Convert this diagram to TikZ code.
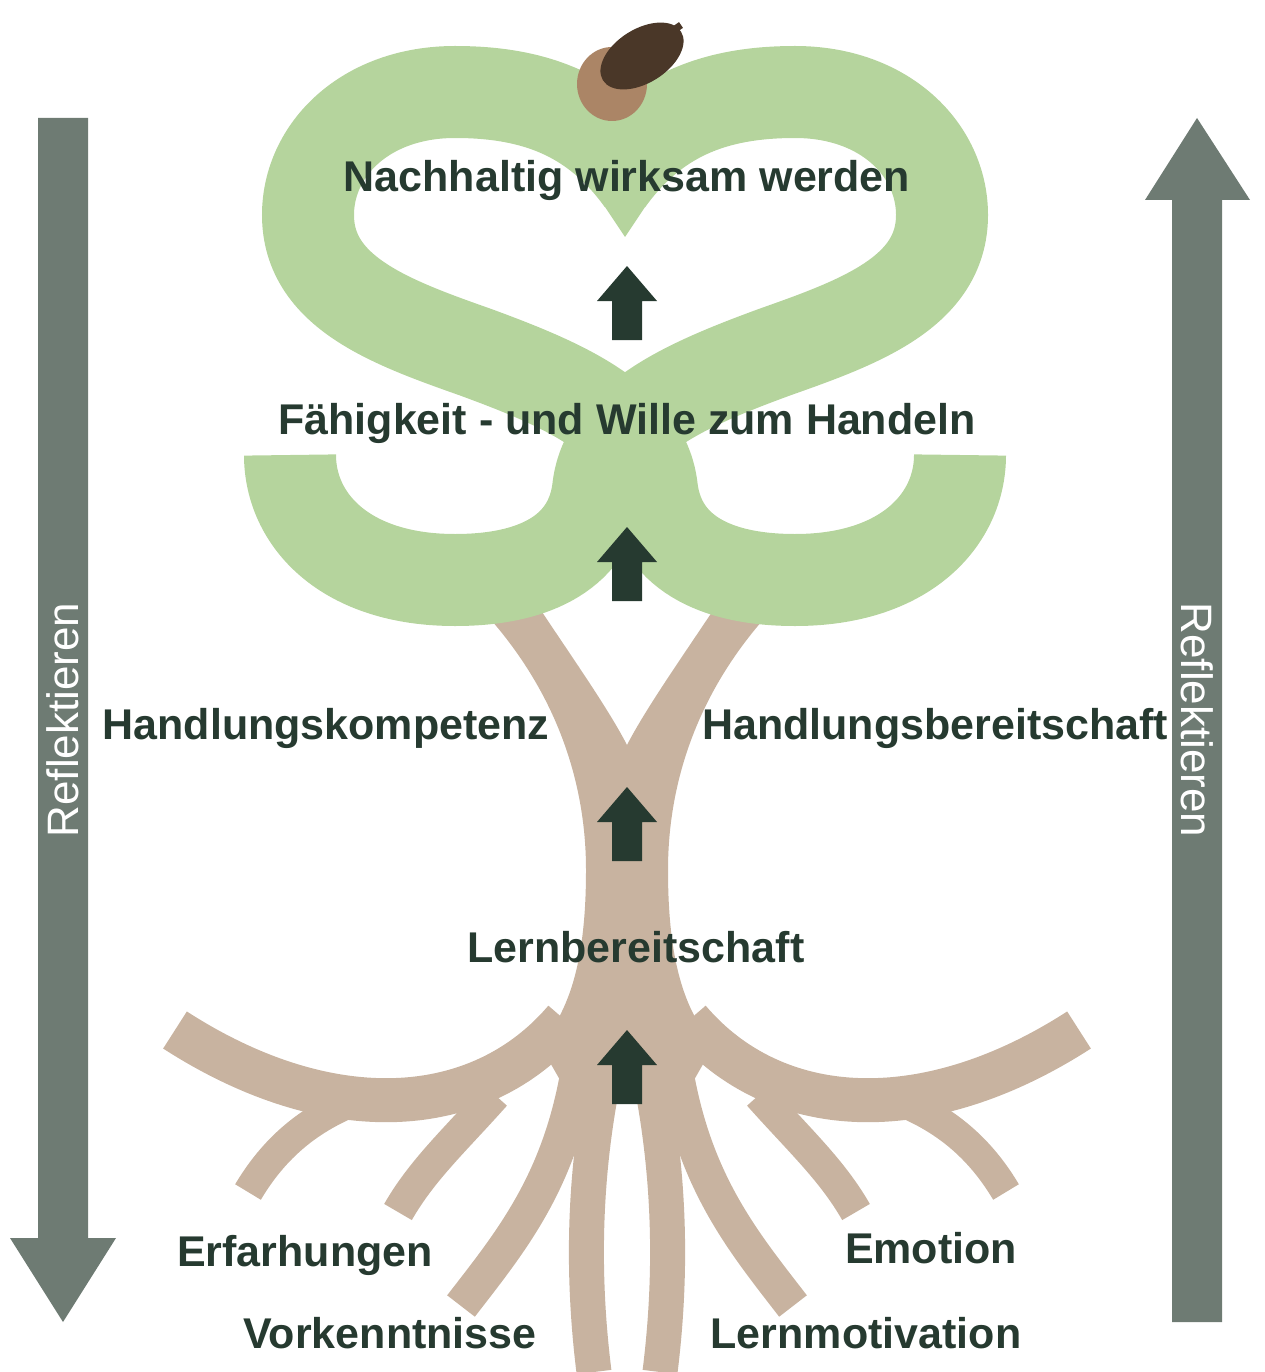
\documentclass[tikz,border=0pt]{standalone}
\usepackage{fontspec}
\setmainfont{Liberation Sans}
\definecolor{leaf}{HTML}{B5D49D}
\definecolor{root}{HTML}{C8B3A0}
\definecolor{ink}{HTML}{263A30}
\definecolor{side}{HTML}{6E7B73}
\definecolor{nut}{HTML}{AB8566}
\definecolor{acap}{HTML}{4A3728}
\begin{document}
\begin{tikzpicture}[x=1pt,y=-1pt,
  lbl/.style={font=\fontsize{43}{47}\selectfont\bfseries, text=ink, inner sep=0pt},
  refl/.style={font=\fontsize{44}{48}\selectfont, text=white, inner sep=0pt},
  band/.style={draw=leaf, line width=92pt, line cap=butt},
  rt/.style={draw=root, line cap=butt}]
\useasboundingbox (0,0) rectangle (1264,1372);
% side arrows
\fill[side] (38,118) -- (88,118) -- (88,1238) -- (116,1238) -- (63,1322) -- (10,1238) -- (38,1238) -- cycle;
\fill[side] (1172,1322) -- (1222,1322) -- (1222,200) -- (1250,200) -- (1197,118) -- (1145,200) -- (1172,200) -- cycle;
\node[refl, rotate=90] (rl) at (63,720) {Reflektieren};
\node[refl, rotate=-90] (rr) at (1197,720) {Reflektieren};
% trunk
\fill[root] (484,612) .. controls (555,690) and (586,780) .. (586,870) .. controls (586,960) and (570,1010) .. (540,1045) -- (560,1080) -- (694,1080) -- (714,1045) .. controls (684,1010) and (668,960) .. (668,870) .. controls (668,780) and (699,690) .. (770,612) -- (712,612) .. controls (680,660) and (645,710) .. (627,745) .. controls (609,710) and (574,660) .. (542,612) -- cycle;
% roots
\foreach \s/\k in {1/0, -1/1254}{
\begin{scope}[shift={(\k,0)},xscale=\s]
\draw[rt, line width=44pt] (565,1020) .. controls (480,1120) and (330,1130) .. (175,1030);
\draw[rt, line width=30pt] (345,1105) .. controls (300,1125) and (270,1155) .. (248,1192);
\draw[rt, line width=32pt] (495,1095) .. controls (455,1140) and (422,1170) .. (398,1212);
\draw[rt, line width=35pt] (580,1060) .. controls (562,1180) and (512,1240) .. (461,1306);
\draw[rt, line width=35pt] (612,1040) .. controls (585,1150) and (580,1260) .. (594,1372);
\end{scope}}
% foliage
\foreach \s/\k in {1/0, -1/1250}{
\begin{scope}[shift={(\k,0)},xscale=\s]
\draw[band] (642,180) .. controls (595,115) and (535,92) .. (455,92) .. controls (365,92) and (308,150) .. (308,215) .. controls (308,292) and (390,322) .. (475,352) .. controls (565,385) and (645,420) .. (652,490) .. controls (660,550) and (712,580) .. (795,580) .. controls (905,580) and (960,520) .. (960,455);
\end{scope}}
\fill[leaf] (545,140) -- (597,195) -- (625,237) -- (653,195) -- (705,140) -- cycle;
% acorn
\fill[nut] (612,84) ellipse [x radius=35, y radius=37];
\fill[acap, rotate around={32:(642,56)}] (642,56) ellipse [x radius=46, y radius=27];
\draw[acap, line width=7pt] (662,38) -- (681,25);
% arrows
\foreach \t in {266,527,787,1030}{
\fill[ink] (627,\t) -- (657,\t+35) -- (642,\t+35) -- (642,\t+74) -- (612,\t+74) -- (612,\t+35) -- (597,\t+35) -- cycle;}
% labels
\node[lbl] (n1) at (627,180) {Nachhaltig wirksam werden};
\node[lbl] (n2) at (627,423) {Fähigkeit - und Wille zum Handeln};
\node[lbl] (n3) at (326,728) {Handlungskompetenz};
\node[lbl] (n4) at (935,728) {Handlungsbereitschaft};
\node[lbl] (n5) at (636,947) {Lernbereitschaft};
\node[lbl] (n6) at (305,1255) {Erfarhungen};
\node[lbl] (n7) at (390,1333) {Vorkenntnisse};
\node[lbl] (n8) at (931,1248) {Emotion};
\node[lbl] (n9) at (866,1333) {Lernmotivation};
\end{tikzpicture}
\end{document}
